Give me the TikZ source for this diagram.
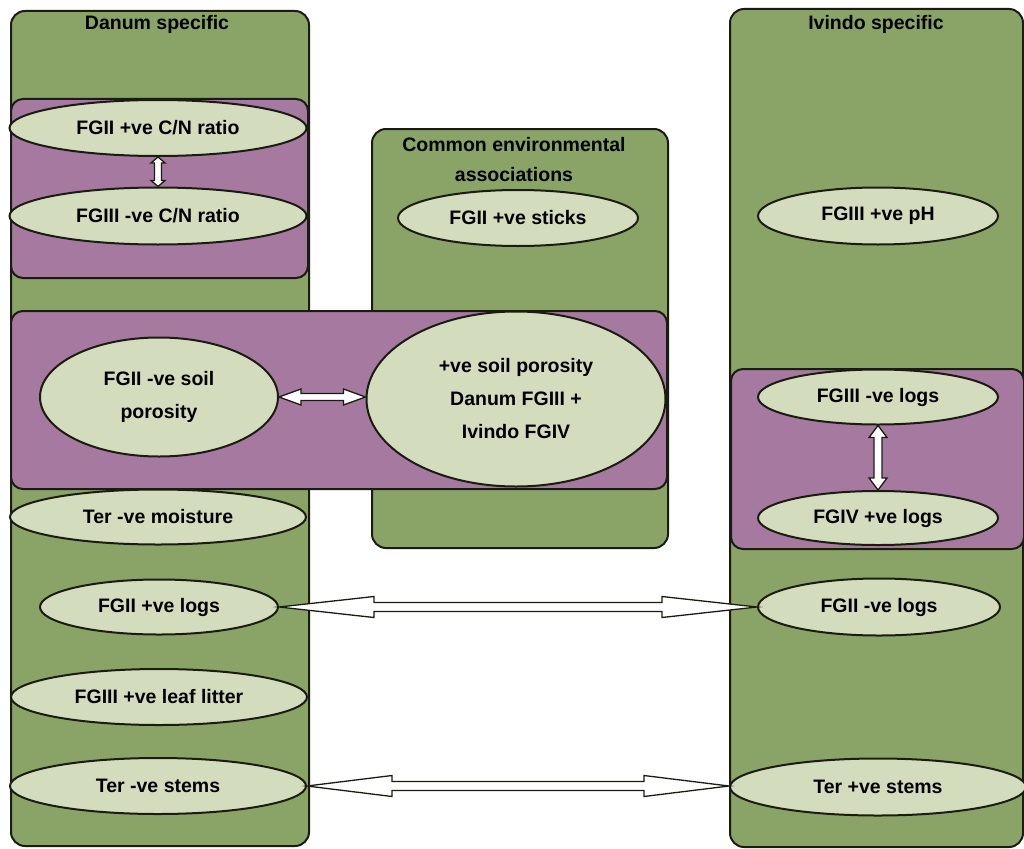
\documentclass[tikz,border=0pt]{standalone}
\usepackage{fontspec}
\setmainfont{Liberation Sans}
\usetikzlibrary{shapes.geometric,calc}
\definecolor{colgreen}{HTML}{8AA468}
\definecolor{boxpurple}{HTML}{A67AA0}
\definecolor{ellfill}{HTML}{D3DDBD}
\definecolor{edge}{HTML}{1A1C12}
\tikzset{
  column/.style={draw=edge, line width=2pt, fill=colgreen, rounded corners=14pt, anchor=north west, inner sep=0pt},
  linkbox/.style={draw=edge, line width=2pt, fill=boxpurple, rounded corners=12pt, anchor=north west, inner sep=0pt},
  factor/.style={ellipse, draw=edge, line width=2pt, fill=ellfill, inner sep=0pt, align=center, font=\bfseries\fontsize{19.5}{33}\selectfont},
  heading/.style={font=\bfseries\fontsize{19.5}{30}\selectfont, align=center, inner sep=0pt},
  hollow/.style={draw=edge, line width=1.3pt, fill=white, line join=miter},
}
% horizontal hollow double arrow: start, end, shaft half-width, head half-width, head length
\newcommand\hollowH[5]{\draw[hollow] let \p1=(#1), \p2=(#2) in
  (\x1,\y1) -- (\x1+#5pt,\y1+#4pt) -- (\x1+#5pt,\y1+#3pt) -- (\x2-#5pt,\y1+#3pt) -- (\x2-#5pt,\y1+#4pt)
  -- (\x2,\y1) -- (\x2-#5pt,\y1-#4pt) -- (\x2-#5pt,\y1-#3pt) -- (\x1+#5pt,\y1-#3pt) -- (\x1+#5pt,\y1-#4pt) -- cycle;}
% vertical hollow double arrow: upper end, lower end, shaft half-width, head half-width, head length
\newcommand\hollowV[5]{\draw[hollow] let \p1=(#1), \p2=(#2) in
  (\x1,\y1) -- (\x1+#4pt,\y1-#5pt) -- (\x1+#3pt,\y1-#5pt) -- (\x1+#3pt,\y2+#5pt) -- (\x1+#4pt,\y2+#5pt)
  -- (\x1,\y2) -- (\x1-#4pt,\y2+#5pt) -- (\x1-#3pt,\y2+#5pt) -- (\x1-#3pt,\y1-#5pt) -- (\x1-#4pt,\y1-#5pt) -- cycle;}
\begin{document}
\begin{tikzpicture}[x=1pt,y=-1pt]
\useasboundingbox (0,0) rectangle (1024,848);
% columns
\node[column, minimum width=298pt, minimum height=835pt] (danum) at (10,10) {};
\node[column, minimum width=296pt, minimum height=419pt] (common) at (371,128) {};
\node[column, minimum width=293pt, minimum height=838pt] (ivindo) at (729,8) {};
% linked boxes
\node[linkbox, minimum width=297pt, minimum height=179pt] (cnbox) at (10,98) {};
\node[linkbox, minimum width=656pt, minimum height=178pt] (porobox) at (10,310) {};
\node[linkbox, minimum width=293pt, minimum height=180pt] (logbox) at (730,368) {};
% headings
\node[heading] (hdan) at (157,24) {Danum specific};
\node[heading] (hivi) at (876,24) {Ivindo specific};
\node[heading] (hcom) at (514,160) {Common environmental\\associations};
% factors
\node[factor, minimum width=297pt, minimum height=56pt] (cn1) at (158,128) {FGII +ve C/N ratio};
\node[factor, minimum width=297pt, minimum height=57pt] (cn2) at (158,216) {FGIII -ve C/N ratio};
\node[factor, minimum width=240pt, minimum height=56pt] (sticks) at (518,218) {FGII +ve sticks};
\node[factor, minimum width=240pt, minimum height=57pt] (ph) at (878,216) {FGIII +ve pH};
\node[factor, minimum width=238pt, minimum height=119pt] (poro1) at (159,397) {FGII -ve soil\\porosity};
\node[factor, minimum width=299pt, minimum height=175pt] (poro2) at (516,399) {+ve soil porosity\\Danum FGIII +\\Ivindo FGIV};
\node[factor, minimum width=240pt, minimum height=55pt] (logs3) at (878,397) {FGIII -ve logs};
\node[factor, minimum width=240pt, minimum height=54pt] (logs4) at (878,518) {FGIV +ve logs};
\node[factor, minimum width=296pt, minimum height=55pt] (moist) at (158,517) {Ter -ve moisture};
\node[factor, minimum width=238pt, minimum height=55pt] (logsD) at (159,607) {FGII +ve logs};
\node[factor, minimum width=296pt, minimum height=56pt] (litter) at (159,697) {FGIII +ve leaf litter};
\node[factor, minimum width=296pt, minimum height=56pt] (stemsD) at (158,786) {Ter -ve stems};
\node[factor, minimum width=242pt, minimum height=57pt] (logsI) at (879,607) {FGII -ve logs};
\node[factor, minimum width=296pt, minimum height=57pt] (stemsI) at (878,787) {Ter +ve stems};
% connectors
\hollowH{logsD.east}{logsI.west}{4.5}{10.5}{95}
\hollowH{stemsD.east}{stemsI.west}{4.5}{10.5}{85}
\hollowH{poro1.east}{poro2.west}{3.5}{8}{22}
\hollowV{cn1.south}{cn2.north}{3.5}{7}{6}
\hollowV{logs3.south}{logs4.north}{4}{9}{12}
\end{tikzpicture}
\end{document}
